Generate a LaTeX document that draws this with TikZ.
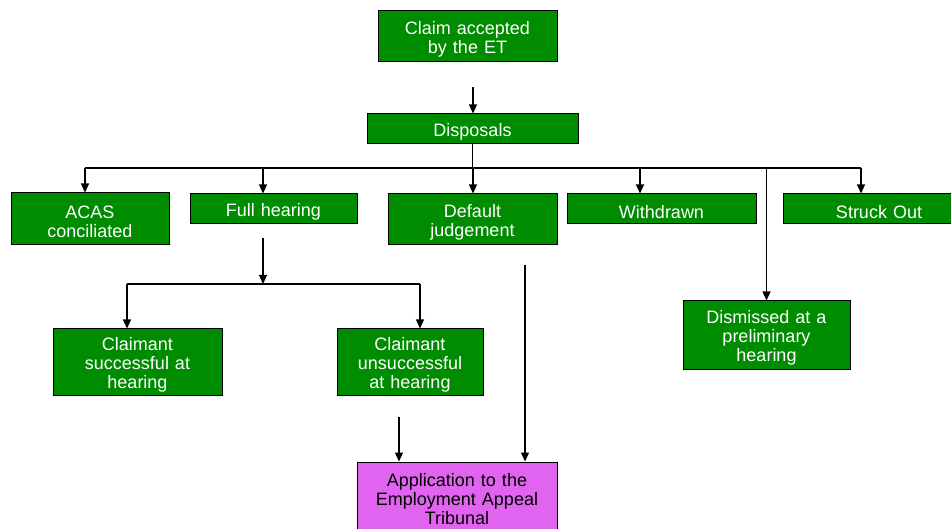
\documentclass[tikz,border=0pt]{standalone}
\usepackage{fontspec}
\setmainfont{Liberation Sans}
\usetikzlibrary{arrows.meta}

\definecolor{stagegreen}{RGB}{0,140,0}
\definecolor{appealviolet}{RGB}{224,100,240}

\tikzset{
  stage/.style={rectangle, draw=black, line width=1pt, fill=stagegreen, text=white,
    align=center, inner sep=0pt, font=\fontsize{18}{19}\selectfont, text height=18.5pt},
  appealbox/.style={stage, fill=appealviolet, text=black}
}

\begin{document}
\begin{tikzpicture}[x=1pt, y=-1pt, >={Triangle[length=9pt,width=8pt]}]
            \useasboundingbox (0,0) rectangle (951,529);
            \clip (0,0) rectangle (951,529);

            % Nodes
            \node[stage, text width=179pt, minimum height=51pt] (claim) at (467.5,36.5) {Claim accepted\\by the ET};
            \node[stage, text width=211pt, minimum height=30pt] (disp) at (472.5,129) {Disposals};
            \node[stage, text width=158pt, minimum height=52pt] (acas) at (90,219) {ACAS\\conciliated};
            \node[stage, text width=167pt, minimum height=30pt] (full) at (273.5,209) {Full hearing};
            \node[stage, text width=169pt, minimum height=51pt] (default) at (472.5,219.5) {Default\\judgement};
            \node[stage, text width=189pt, minimum height=30pt] (withdrawn) at (661.5,209) {Withdrawn};
            \node[stage, text width=192pt, minimum height=30pt] (struck) at (879,209) {Struck Out};
            \node[stage, text width=167pt, minimum height=69pt] (dismissed) at (766.5,335.5) {Dismissed at a\\preliminary\\hearing};
            \node[stage, text width=169pt, minimum height=67pt] (success) at (137.5,362.5) {Claimant\\successful at\\hearing};
            \node[stage, text width=146pt, minimum height=67pt] (unsucc) at (410,362.5) {Claimant\\unsuccessful\\at hearing};
            \node[appealbox, text width=200pt, minimum height=68pt] (appeal) at (457,496) {Application to the\\Employment Appeal\\Tribunal};

            % Free ends of the connectors
            \coordinate (claimgap) at (473,87);
            \coordinate (busW) at (85,168);
            \coordinate (busE) at (861,168);
            \coordinate (fullgap) at (263,238);
            \coordinate (hearW) at (127,284);
            \coordinate (hearE) at (420,284);
            \coordinate (unsuccgap) at (399,417);
            \coordinate (defaultgap) at (525,265);

            % Edges
            \draw[->, line width=1.2pt] (claimgap) -- (claimgap |- disp.north);
            \draw[line width=1.2pt] (disp.south) -- (disp.south |- busW);
            \draw[line width=1.2pt] (busW) -- (busE);
            \foreach \x/\n in {85/acas, 263/full, 473/default, 640/withdrawn, 861/struck} {
                \coordinate (drop\n) at (\x,168);
                \draw[->, line width=1.2pt] (drop\n) -- (drop\n |- \n.north);
            }
            \draw[->, line width=1.2pt] (dismissed.north |- busE) -- (dismissed.north);
            \draw[->, line width=1.2pt] (fullgap) -- (fullgap |- hearW);
            \draw[line width=1.2pt] (hearW) -- (hearE);
            \draw[->, line width=1.2pt] (hearW) -- (hearW |- success.north);
            \draw[->, line width=1.2pt] (hearE) -- (hearE |- unsucc.north);
            \draw[->, line width=1.2pt] (unsuccgap) -- (unsuccgap |- appeal.north);
            \draw[->, line width=1.2pt] (defaultgap) -- (defaultgap |- appeal.north);
        \end{tikzpicture}
\end{document}
